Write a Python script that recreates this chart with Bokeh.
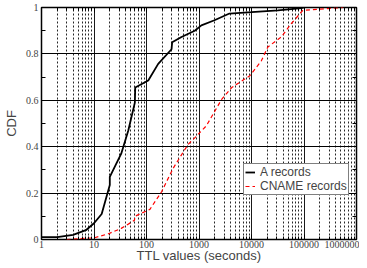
from bokeh.plotting import figure
from bokeh.models import (FixedTicker, LogAxis, LinearAxis, CustomJSTickFormatter,
                          Legend, LegendItem)
from bokeh.embed import file_html
from bokeh.resources import INLINE

# ---- data ----
a_ttl = [1, 2, 4, 7, 10, 14, 20, 20, 33, 45, 60, 61, 108, 167, 300, 308, 464, 830,
         1110, 1970, 3800, 10000, 32000, 89000, 100000]
a_cdf = [0.01, 0.01, 0.02, 0.04, 0.07, 0.11, 0.235, 0.27, 0.37, 0.47, 0.59, 0.655,
         0.685, 0.757, 0.82, 0.85, 0.873, 0.90, 0.923, 0.945, 0.974, 0.98, 0.988,
         0.997, 1.0]

cname_ttl = [3, 10, 19, 33, 52, 59, 60, 116, 194, 322, 464, 620, 830, 1380, 2700,
             4200, 9300, 15400, 20500, 37000, 57000, 95000, 560000]
cname_cdf = [0.0, 0.007, 0.025, 0.048, 0.075, 0.083, 0.10, 0.13, 0.206, 0.307, 0.365,
             0.41, 0.438, 0.49, 0.604, 0.655, 0.706, 0.77, 0.83, 0.873, 0.93, 0.988,
             1.0]

x_decades = [1, 10, 100, 1000, 10000, 100000, 1000000]
x_minor = [m * d for d in x_decades[:-1] for m in range(2, 10)]
y_major = [0, 0.2, 0.4, 0.6, 0.8, 1.0]
y_minor = [0.1, 0.3, 0.5, 0.7, 0.9]

serif = "Liberation Serif"
sans = "Liberation Sans"

p = figure(width=359, height=265, x_axis_type="log", x_range=(1, 1000000),
           y_range=(0, 1), output_backend="svg", toolbar_location=None,
           min_border_left=32, min_border_right=3, min_border_top=7,
           min_border_bottom=20)

p.outline_line_color = "black"
p.outline_line_width = 1.5
p.background_fill_color = "white"
p.border_fill_color = "white"

xt = FixedTicker(ticks=x_decades, minor_ticks=x_minor)
yt = FixedTicker(ticks=y_major, minor_ticks=y_minor)

# bottom axis
xa = p.xaxis[0]
xa.ticker = xt
xa.formatter = CustomJSTickFormatter(code="return String(Math.round(tick));")
xa.axis_label = "TTL values (seconds)"
xa.axis_label_text_font = sans
xa.axis_label_text_font_size = "13px"
xa.axis_label_text_font_style = "normal"
xa.axis_label_standoff = -3
xa.major_label_text_font = serif
xa.major_label_text_font_size = "10px"
xa.major_label_standoff = 1
xa.major_tick_in = 5
xa.major_tick_out = 0
xa.minor_tick_in = 3
xa.minor_tick_out = 0
xa.axis_line_color = None

ya = p.yaxis[0]
ya.ticker = yt
ya.formatter = CustomJSTickFormatter(code="return String(Math.round(tick*10)/10);")
ya.axis_label = "CDF"
ya.axis_label_text_font = sans
ya.axis_label_text_font_size = "13px"
ya.axis_label_text_font_style = "normal"
ya.axis_label_standoff = 4
ya.major_label_text_font = serif
ya.major_label_text_font_size = "10px"
ya.major_label_standoff = 3
ya.major_tick_in = 5
ya.major_tick_out = 0
ya.minor_tick_in = 4
ya.minor_tick_out = 0
ya.axis_line_color = None

# right / top tick-only axes
ra = LinearAxis(ticker=yt, major_label_text_font_size="1px",
                major_label_text_color=None, major_tick_in=5,
                major_tick_out=0, minor_tick_in=4, minor_tick_out=0,
                axis_line_color=None, major_label_standoff=0)
p.add_layout(ra, "right")
ta = LogAxis(ticker=xt, major_label_text_font_size="1px",
             major_label_text_color=None, major_tick_in=5,
             major_tick_out=0, minor_tick_in=3, minor_tick_out=0,
             axis_line_color=None, major_label_standoff=0)
p.add_layout(ta, "above")

# grids
p.xgrid.ticker = xt
p.xgrid.grid_line_color = "black"
p.xgrid.grid_line_width = 1
p.xgrid.grid_line_alpha = 0.9
p.xgrid.minor_grid_line_color = "black"
p.xgrid.minor_grid_line_dash = "2 2"
p.xgrid.minor_grid_line_width = 1
p.xgrid.minor_grid_line_alpha = 0.85
p.ygrid.ticker = yt
p.ygrid.grid_line_color = "black"
p.ygrid.grid_line_width = 1

la = p.line(a_ttl, a_cdf, line_color="black", line_width=1.8)
lc = p.line(cname_ttl, cname_cdf, line_color="red", line_width=1.2, line_dash="4 3")

legend = Legend(items=[LegendItem(label="A records", renderers=[la]),
                       LegendItem(label="CNAME records", renderers=[lc])],
                location=(202, 44), label_text_font=sans,
                label_text_font_size="12px", label_text_line_height=0.85,
                label_height=10, glyph_height=10,
                glyph_width=10, spacing=0, padding=1, margin=0,
                label_standoff=5, border_line_color="black", border_line_width=1,
                background_fill_alpha=1)
p.add_layout(legend)

open("out.html", "w").write(file_html(p, INLINE))
